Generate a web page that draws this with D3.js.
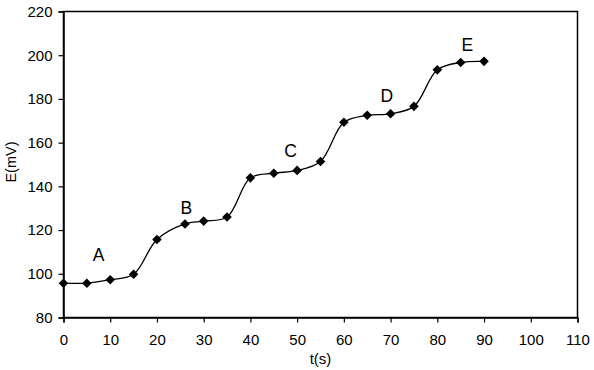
<!DOCTYPE html>
<html>
<head>
<meta charset="utf-8">
<script src="https://cdn.jsdelivr.net/npm/d3@7"></script>
<style>
  body { margin: 0; background: #fff; }
  svg text { font-family: "Liberation Sans", Arial, sans-serif; fill: #000; }
</style>
</head>
<body>
<div id="chart"></div>
<script>
// measured time points (s) and potential (mV)
const times = [0, 5, 10, 15, 20, 26, 30, 35, 40, 45, 50, 55, 60, 65, 70, 75, 80, 85, 90];
const potentials = [95.7, 95.7, 97.3, 99.8, 115.7, 122.8, 124.1, 126, 143.9, 146, 147.3, 151.4, 169.3, 172.5, 173.2, 176.6, 193.3, 196.7, 197.2];

// step labels
const stepNames = ["A", "B", "C", "D", "E"];
const stepT = [7.5, 26.3, 48.6, 69.2, 86.4];
const stepE = [108.7, 130.3, 156.4, 181.5, 204.9];

const xTicks = [0, 10, 20, 30, 40, 50, 60, 70, 80, 90, 100, 110];
const yTicks = [80, 100, 120, 140, 160, 180, 200, 220];

const width = 594, height = 370;
const margin = {left: 63.5, top: 11.5, right: 16.5, bottom: 52.5};

const svg = d3.select("#chart").append("svg")
    .attr("width", width)
    .attr("height", height);

const x = d3.scaleLinear().domain([0, 110]).range([margin.left, width - margin.right]);
const y = d3.scaleLinear().domain([80, 220]).range([height - margin.bottom, margin.top]);

// plot frame
svg.append("rect")
    .attr("x", x(0)).attr("y", y(220))
    .attr("width", x(110) - x(0)).attr("height", y(80) - y(220))
    .attr("fill", "none").attr("stroke", "#000").attr("stroke-width", 1.5);

const xAxis = svg.append("g")
    .attr("transform", `translate(0,${y(80)})`)
    .call(d3.axisBottom(x).tickValues(xTicks).tickSize(5).tickPadding(12));
const yAxis = svg.append("g")
    .attr("transform", `translate(${x(0)},0)`)
    .call(d3.axisLeft(y).tickValues(yTicks).tickSize(5).tickPadding(6));

[xAxis, yAxis].forEach(g => {
    g.select(".domain").attr("stroke-width", 1.5);
    g.selectAll(".tick line").attr("stroke-width", 1.2);
    g.selectAll(".tick text").attr("font-size", 15).attr("font-family", "Liberation Sans, Arial, sans-serif");
});

// axis titles
svg.append("text")
    .attr("x", x(55)).attr("y", 364)
    .attr("text-anchor", "middle")
    .attr("font-size", 15)
    .text("t(s)");
svg.append("text")
    .attr("transform", "translate(16,162) rotate(-90)")
    .attr("text-anchor", "middle")
    .attr("font-size", 14.5)
    .text("E(mV)");

// smoothed line
const pts = times.map((t, i) => [t, potentials[i]]);
const line = d3.line()
    .x(d => x(d[0]))
    .y(d => y(d[1]))
    .curve(d3.curveCatmullRom.alpha(0.5));
svg.append("path")
    .attr("d", line(pts))
    .attr("fill", "none")
    .attr("stroke", "#000")
    .attr("stroke-width", 1.3);

// diamond markers
const marker = d3.symbol().type(d3.symbolSquare).size(46);
svg.append("g").selectAll("path")
    .data(pts)
    .join("path")
    .attr("d", marker)
    .attr("transform", d => `translate(${x(d[0])},${y(d[1])}) rotate(45)`)
    .attr("fill", "#000");

// step letters
svg.append("g").selectAll("text")
    .data(stepNames)
    .join("text")
    .attr("x", (d, i) => x(stepT[i]))
    .attr("y", (d, i) => y(stepE[i]))
    .attr("dy", "0.36em")
    .attr("text-anchor", "middle")
    .attr("font-size", 17.5)
    .text(d => d);
</script>
</body>
</html>
